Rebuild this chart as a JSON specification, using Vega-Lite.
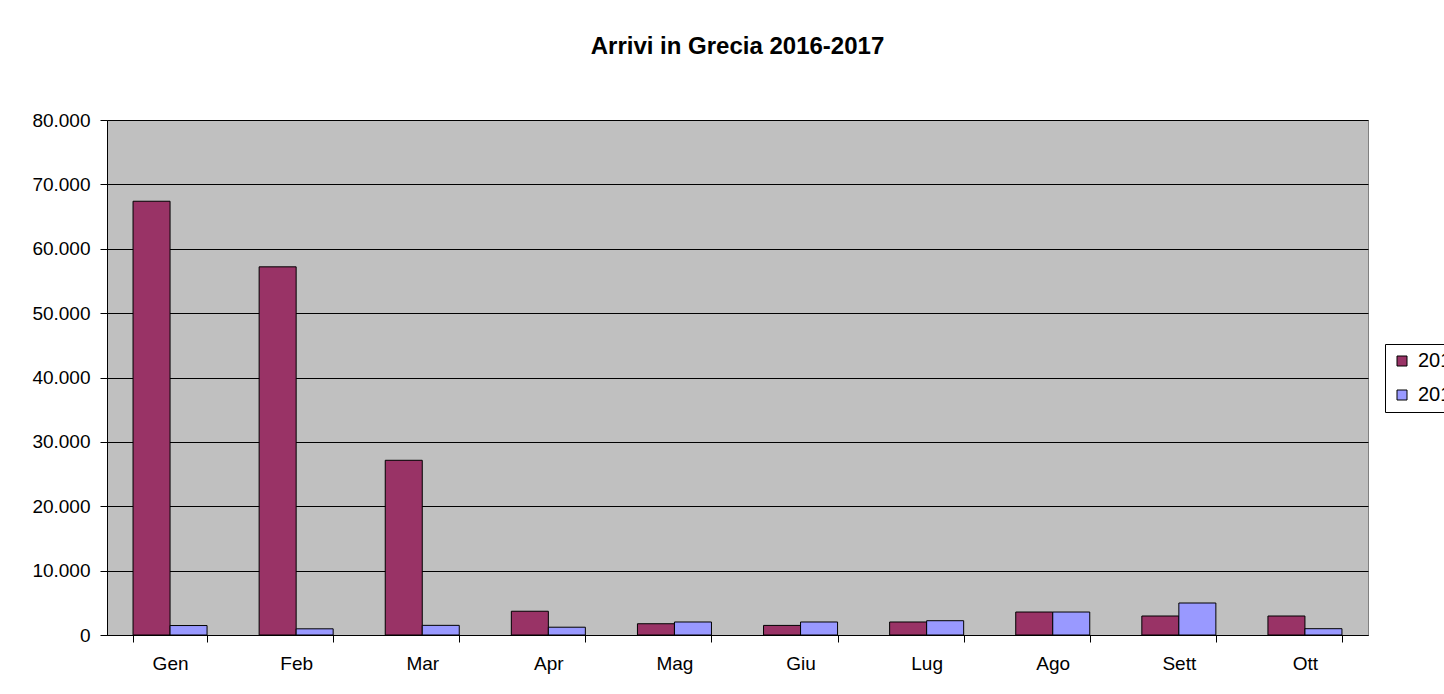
{
  "$schema": "https://vega.github.io/schema/vega-lite/v6.json",
  "width": 1261,
  "height": 515,
  "autosize": {"type": "none"},
  "padding": {"left": 107, "top": 120, "right": 76, "bottom": 59},
  "background": "white",
  "title": {
    "text": "Arrivi in Grecia 2016-2017",
    "font": "Liberation Sans",
    "fontSize": 24,
    "fontWeight": "bold",
    "color": "black",
    "anchor": "middle",
    "offset": 52
  },
  "data": {
    "values": [
      {"mese": "Gen", "anno": "2016", "arrivi": 67380},
      {"mese": "Gen", "anno": "2017", "arrivi": 1470},
      {"mese": "Feb", "anno": "2016", "arrivi": 57190},
      {"mese": "Feb", "anno": "2017", "arrivi": 960},
      {"mese": "Mar", "anno": "2016", "arrivi": 27140},
      {"mese": "Mar", "anno": "2017", "arrivi": 1500},
      {"mese": "Apr", "anno": "2016", "arrivi": 3690},
      {"mese": "Apr", "anno": "2017", "arrivi": 1210},
      {"mese": "Mag", "anno": "2016", "arrivi": 1750},
      {"mese": "Mag", "anno": "2017", "arrivi": 2020},
      {"mese": "Giu", "anno": "2016", "arrivi": 1490},
      {"mese": "Giu", "anno": "2017", "arrivi": 2020},
      {"mese": "Lug", "anno": "2016", "arrivi": 2020},
      {"mese": "Lug", "anno": "2017", "arrivi": 2220},
      {"mese": "Ago", "anno": "2016", "arrivi": 3570},
      {"mese": "Ago", "anno": "2017", "arrivi": 3570},
      {"mese": "Sett", "anno": "2016", "arrivi": 2950},
      {"mese": "Sett", "anno": "2017", "arrivi": 4970},
      {"mese": "Ott", "anno": "2016", "arrivi": 2950},
      {"mese": "Ott", "anno": "2017", "arrivi": 980}
    ]
  },
  "mark": {"type": "bar", "stroke": "black", "strokeWidth": 1},
  "encoding": {
    "x": {
      "field": "mese",
      "type": "nominal",
      "sort": null,
      "scale": {"paddingInner": 0.413, "paddingOuter": 0.2065},
      "axis": {
        "title": null,
        "labelAngle": 0,
        "labelFont": "Liberation Sans",
        "labelFontSize": 19,
        "labelColor": "black",
        "labelPadding": 12,
        "domainColor": "black",
        "domainWidth": 1,
        "tickColor": "black",
        "tickSize": 7,
        "tickWidth": 1,
        "tickBand": "extent",
        "grid": false
      }
    },
    "xOffset": {
      "field": "anno",
      "type": "nominal",
      "scale": {"paddingInner": 0, "paddingOuter": 0}
    },
    "y": {
      "field": "arrivi",
      "type": "quantitative",
      "scale": {"domain": [0, 80000], "nice": false},
      "axis": {
        "title": null,
        "values": [0, 10000, 20000, 30000, 40000, 50000, 60000, 70000, 80000],
        "labelExpr": "replace(format(datum.value, ','), ',', '.')",
        "labelFont": "Liberation Sans",
        "labelFontSize": 19,
        "labelColor": "black",
        "labelPadding": 10,
        "domainColor": "black",
        "domainWidth": 1,
        "tickColor": "black",
        "tickSize": 7,
        "tickWidth": 1,
        "grid": true,
        "gridColor": "black",
        "gridWidth": 1,
        "gridOpacity": 1
      }
    },
    "color": {
      "field": "anno",
      "type": "nominal",
      "scale": {"domain": ["2016", "2017"], "range": ["#993366", "#9999FF"]},
      "legend": {
        "title": null,
        "orient": "none",
        "legendX": 1278,
        "legendY": 224,
        "strokeColor": "black",
        "fillColor": "white",
        "padding": 7,
        "symbolType": "square",
        "symbolSize": 100,
        "symbolStrokeColor": "black",
        "symbolStrokeWidth": 1,
        "symbolOpacity": 1,
        "labelFont": "Liberation Sans",
        "labelFontSize": 20,
        "labelColor": "black",
        "labelOffset": 6,
        "rowPadding": 14
      }
    }
  },
  "config": {
    "view": {"fill": "#C0C0C0", "stroke": "#808080", "strokeWidth": 1}
  }
}
